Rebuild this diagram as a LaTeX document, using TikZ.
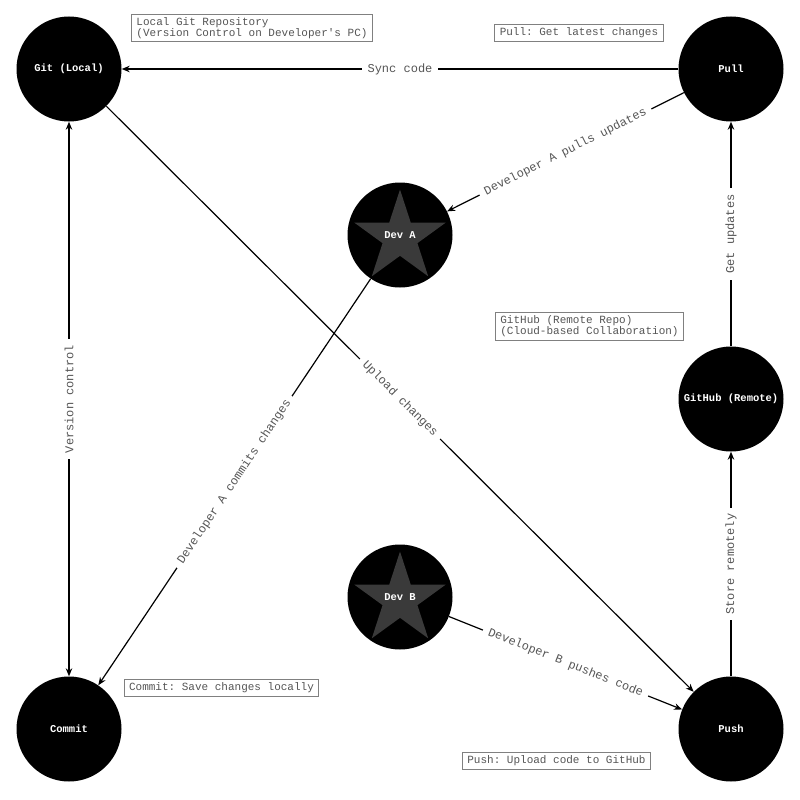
\documentclass[tikz,border=0pt]{standalone}
\usepackage{fontspec}
\setmonofont{Liberation Mono}
\usetikzlibrary{arrows.meta,shapes.geometric}
\definecolor{lbl}{HTML}{555555}
\definecolor{boxline}{HTML}{808080}
\definecolor{stargray}{HTML}{3A3A3A}
\tikzset{
  every node/.style={font=\ttfamily},
  bignode/.style={circle, fill=black, minimum size=105pt, inner sep=0pt, text=white, font=\ttfamily\bfseries\fontsize{10.5}{12}\selectfont},
  starshape/.style={star, star points=5, star point ratio=2.618, fill=stargray, minimum size=96pt, inner sep=0pt},
  devtext/.style={text=white, font=\ttfamily\bfseries\fontsize{10.5}{12}\selectfont},
  tip/.style={-{Stealth[length=8pt,width=6.5pt]}},
  conn/.style={draw=black, line width=1.2pt, tip},
  elabel/.style={fill=white, text=lbl, inner xsep=6pt, inner ysep=2pt, font=\ttfamily\fontsize{12}{13}\selectfont},
  infobox/.style={draw=boxline, line width=0.9pt, fill=white, text=lbl, align=left, inner xsep=5pt, inner ysep=3pt, font=\ttfamily\fontsize{11}{11}\selectfont}
}
\begin{document}
\begin{tikzpicture}[x=1pt,y=-1pt]
\useasboundingbox (0,0) rectangle (800,800);
\node[bignode] (git) at (69,69) {Git (Local)};
\node[bignode] (pull) at (731,69) {Pull};
\node[bignode] (github) at (731,399) {GitHub (Remote)};
\node[bignode] (commit) at (69,729) {Commit};
\node[bignode] (push) at (731,729) {Push};
\node[circle, fill=black, minimum size=105pt, inner sep=0pt] (devA) at (400,235) {};
\node[starshape] (starA) at (400,237.5) {};
\node[devtext] (devAt) at (400,235) {Dev A};
\node[circle, fill=black, minimum size=105pt, inner sep=0pt] (devB) at (400,597) {};
\node[starshape] (starB) at (400,599.5) {};
\node[devtext] (devBt) at (400,597) {Dev B};

% connectors
\draw[conn] (pull) -- node[elabel] {Sync code} (git);
\draw[conn] (pull) -- node[elabel, sloped] {Developer A pulls updates} (devA);
\draw[conn] (github) -- node[elabel, rotate=90] {Get updates} (pull);
\draw[conn] (push) -- node[elabel, rotate=90] {Store remotely} (github);
\draw[conn] (git) -- node[elabel, sloped] {Upload changes} (push);
\draw[conn] (devA) -- node[elabel, sloped] {Developer A commits changes} (commit);
\draw[conn, {Stealth[length=8pt,width=6.5pt]}-{Stealth[length=8pt,width=6.5pt]}] (git) -- node[elabel, rotate=90] {Version control} (commit);
\draw[conn] (devB) -- node[elabel, sloped] {Developer B pushes code} (push);

% info boxes
\node[infobox] (boxgit) at (252,28) {Local Git Repository\\(Version Control on Developer's PC)};
\node[infobox] (boxpull) at (579,33) {Pull: Get latest changes};
\node[infobox] (boxgh) at (589.5,326.5) {GitHub (Remote Repo)\\(Cloud-based Collaboration)};
\node[infobox] (boxcommit) at (221.5,688) {Commit: Save changes locally};
\node[infobox] (boxpush) at (556.5,761) {Push: Upload code to GitHub};
\end{tikzpicture}
\end{document}
